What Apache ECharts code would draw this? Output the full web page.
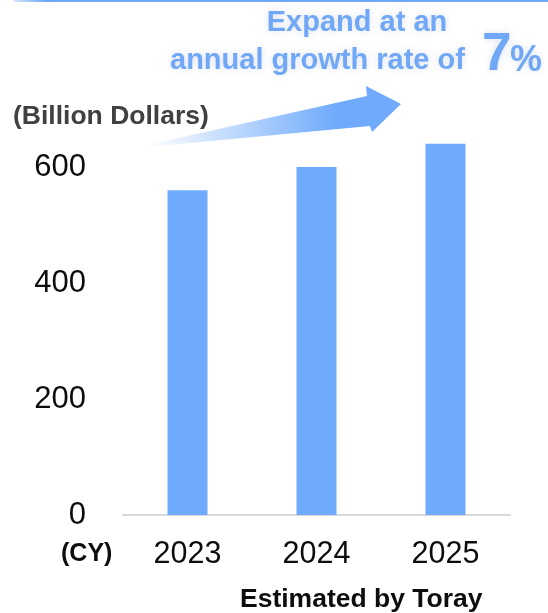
<!DOCTYPE html>
<html>
<head>
<meta charset="utf-8">
<script src="https://cdn.jsdelivr.net/npm/echarts@6/dist/echarts.min.js"></script>
<style>
  html, body { margin: 0; padding: 0; background: #ffffff; }
  #chart { width: 548px; height: 613px; }
</style>
</head>
<body>
<div id="chart"></div>
<script>
// Market size by calendar year (billion dollars)
const years = ['2023', '2024', '2025'];
const marketSize = [560, 600, 640];
const yTicks = [0, 200, 400, 600];

const FONT = "'Liberation Sans', Arial, Helvetica, sans-serif";
const BLUE = '#6faafc';
const TITLE_BLUE = '#70a8f7';
const glow = { textShadowColor: 'rgba(170,185,210,0.45)', textShadowBlur: 7 };

const chart = echarts.init(document.getElementById('chart'), null, { renderer: 'canvas' });

chart.setOption({
  animation: false,
  backgroundColor: '#ffffff',
  grid: { left: 123, right: 38, top: 109, bottom: 98, containLabel: false },
  xAxis: {
    type: 'category',
    data: years,
    axisLine: { show: true, lineStyle: { color: '#d9d9d9', width: 2 } },
    axisTick: { show: false },
    axisLabel: { color: '#0d0d0d', fontSize: 30.5, fontFamily: FONT, margin: 24 }
  },
  yAxis: {
    type: 'value',
    min: 0,
    max: 700,
    interval: 200,
    axisLine: { show: false },
    axisTick: { show: false },
    splitLine: { show: false },
    axisLabel: {
      color: '#0d0d0d', fontSize: 31, fontFamily: FONT, margin: 37,
      showMaxLabel: false,
      formatter: v => (yTicks.indexOf(v) >= 0 ? String(v) : '')
    }
  },
  series: [{
    type: 'bar',
    data: marketSize,
    barWidth: '31%',
    itemStyle: { color: BLUE }
  }],
  graphic: [
    // thin accent rule across the top edge
    {
      type: 'rect',
      shape: { x: 14, y: 0, width: 534, height: 2 },
      style: {
        fill: new echarts.graphic.LinearGradient(0, 0, 1, 0, [
          { offset: 0, color: 'rgba(111,168,248,0.3)' },
          { offset: 0.06, color: '#6fa8f8' },
          { offset: 1, color: '#6fa8f8' }
        ])
      },
      silent: true
    },
    // growth arrow, fading in from the left
    {
      type: 'polygon',
      shape: {
        points: [[147, 145], [367, 96], [366, 86], [401, 104], [372, 132], [370, 126], [147, 147]]
      },
      style: {
        fill: new echarts.graphic.LinearGradient(0, 0, 1, 0, [
          { offset: 0, color: 'rgba(111,170,252,0)' },
          { offset: 0.75, color: 'rgba(111,170,252,1)' },
          { offset: 1, color: 'rgba(111,170,252,1)' }
        ])
      },
      silent: true
    },
    {
      type: 'text', x: 357, y: 23,
      style: Object.assign({
        text: 'Expand at an', fill: TITLE_BLUE, font: 'bold 29px ' + FONT,
        textAlign: 'center', textVerticalAlign: 'middle'
      }, glow)
    },
    {
      type: 'text', x: 170, y: 61,
      style: Object.assign({
        text: 'annual growth rate of', fill: TITLE_BLUE, font: 'bold 29px ' + FONT,
        textAlign: 'left', textVerticalAlign: 'middle'
      }, glow)
    },
    {
      type: 'text', x: 482, y: 55,
      style: Object.assign({
        text: '7', fill: TITLE_BLUE, font: 'bold 53px ' + FONT,
        textAlign: 'left', textVerticalAlign: 'middle'
      }, glow)
    },
    {
      type: 'text', x: 510, y: 61,
      style: Object.assign({
        text: '%', fill: TITLE_BLUE, font: 'bold 36px ' + FONT,
        textAlign: 'left', textVerticalAlign: 'middle'
      }, glow)
    },
    {
      type: 'text', x: 13, y: 117,
      style: {
        text: '(Billion Dollars)', fill: '#404040', font: 'bold 26.5px ' + FONT,
        textAlign: 'left', textVerticalAlign: 'middle'
      }
    },
    {
      type: 'text', x: 61, y: 554,
      style: {
        text: '(CY)', fill: '#0d0d0d', font: 'bold 25px ' + FONT,
        textAlign: 'left', textVerticalAlign: 'middle'
      }
    },
    {
      type: 'text', x: 240, y: 600,
      style: {
        text: 'Estimated by Toray', fill: '#0d0d0d', font: 'bold 26.5px ' + FONT,
        textAlign: 'left', textVerticalAlign: 'middle'
      }
    }
  ]
});
</script>
</body>
</html>
